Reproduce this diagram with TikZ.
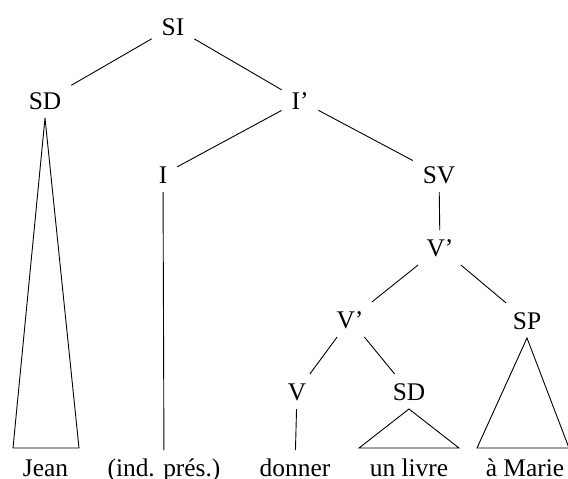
\documentclass[tikz,border=0pt]{standalone}
\usepackage{fontspec}
\setmainfont{Liberation Serif}
\begin{document}
\begin{tikzpicture}[x=1pt,y=-1pt,
  lab/.style={font=\fontsize{25.4}{30}\selectfont, inner sep=0pt, outer xsep=10pt, outer ysep=9pt,
              text height=17pt, text depth=0pt, anchor=base},
  edge/.style={line width=0.9pt, line join=miter}]
\useasboundingbox (0,0) rectangle (568,479);
% nodes (x, baseline)
\node[lab] (si)  at (173,35)  {SI};
\node[lab] (sd)  at (45,109)  {SD};
\node[lab] (ib)  at (300,109) {I’};
\node[lab] (i)   at (163,183) {I};
\node[lab] (sv)  at (439,183) {SV};
\node[lab] (vb)  at (440,256) {V’};
\node[lab] (vbb) at (350,328) {V’};
\node[lab] (sp)  at (527,329) {SP};
\node[lab] (v)   at (297,400) {V};
\node[lab] (sd2) at (409,400) {SD};
% leaves
\node[lab] (jean)   at (45.5,476) {Jean};
\node[lab] (ind)    at (164,476)  {(ind. prés.)};
\node[lab] (donner) at (295,476)  {donner};
\node[lab] (livre)  at (409,476)  {un livre};
\node[lab] (marie)  at (525,476)  {à Marie};
% triangle corners
\coordinate (sdL) at (13,448);  \coordinate (sdR) at (79,448);
\coordinate (s2L) at (359,448); \coordinate (s2R) at (459,448);
\coordinate (spL) at (477,448); \coordinate (spR) at (569,448);
% edges
\draw[edge] (si) -- (sd);
\draw[edge] (si) -- (ib);
\draw[edge] (ib) -- (i);
\draw[edge] (ib) -- (sv);
\draw[edge] (sv) -- (vb);
\draw[edge] (vb) -- (vbb);
\draw[edge] (vb) -- (sp);
\draw[edge] (vbb) -- (v);
\draw[edge] (vbb) -- (sd2);
\draw[edge] (i) -- (ind);
\draw[edge] (v) -- (donner);
% triangles
\draw[edge] (sd.south) -- (sdL) -- (sdR) -- cycle;
\draw[edge] (sd2.south) -- (s2L) -- (s2R) -- cycle;
\draw[edge] (sp.south) -- (spL) -- (spR) -- cycle;
\end{tikzpicture}
\end{document}
